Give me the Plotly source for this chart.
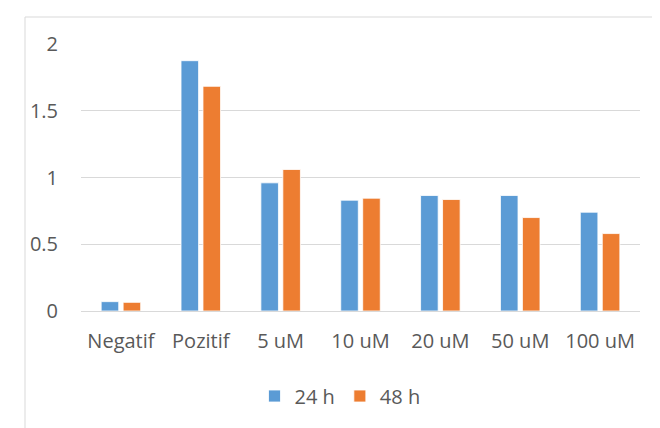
import plotly.graph_objects as go

categories = ["Negatif", "Pozitif", "5 uM", "10 uM", "20 uM", "50 uM", "100 uM"]
values_24h = [0.07, 1.875, 0.96, 0.83, 0.865, 0.865, 0.74]
values_48h = [0.065, 1.683, 1.06, 0.845, 0.835, 0.70, 0.58]
series_names = ["24 h", "48 h"]
y_ticks = [0, 0.5, 1, 1.5, 2]
y_tick_labels = ["0", "0.5", "1", "1.5", "2"]

FONT = "Open Sans, Liberation Sans, sans-serif"
TXT = "#595959"

# page body has an 8px margin, so the figure is laid out 8px smaller/offset
W, H = 652, 420
L, T = 73, 36
R = W - 632
B = H - 303

fig = go.Figure()
fig.add_trace(go.Bar(x=categories, y=values_24h, name=series_names[0],
                     marker=dict(color="#5B9BD5", line=dict(color="white", width=0.8))))
fig.add_trace(go.Bar(x=categories, y=values_48h, name=series_names[1],
                     marker=dict(color="#ED7D31", line=dict(color="white", width=0.8))))

pw = W - L - R
ph = H - T - B

fig.update_layout(
    width=W, height=H,
    margin=dict(l=L, r=R, t=T, b=B),
    paper_bgcolor="white", plot_bgcolor="white",
    barmode="group", bargap=0.45, bargroupgap=0.2,
    font=dict(family=FONT, size=20, color=TXT),
    showlegend=True,
    legend=dict(orientation="h", x=(340 - 81) / pw, xanchor="center",
                y=(311 - 396) / ph, yanchor="middle",
                font=dict(size=20, color=TXT), itemwidth=30, traceorder="normal"),
    xaxis=dict(showgrid=False, showline=False, zeroline=False, ticks="",
               ticklabelstandoff=16, tickfont=dict(size=20, color=TXT)),
    yaxis=dict(range=[0, 2.0], tickvals=y_ticks, ticktext=y_tick_labels,
               showgrid=True, gridcolor="#D9D9D9", gridwidth=1,
               zeroline=True, zerolinecolor="#D9D9D9", zerolinewidth=1,
               showline=False, ticks="", ticklabelstandoff=22,
               tickfont=dict(size=20, color=TXT)),
    shapes=[dict(type="rect", xref="paper", yref="paper",
                 x0=(25 - 81) / pw, x1=1.2, y0=-0.7, y1=1 + (44 - 17) / ph,
                 line=dict(color="#D9D9D9", width=1), fillcolor="rgba(0,0,0,0)", layer="below")],
)
fig.write_html("out.html")
